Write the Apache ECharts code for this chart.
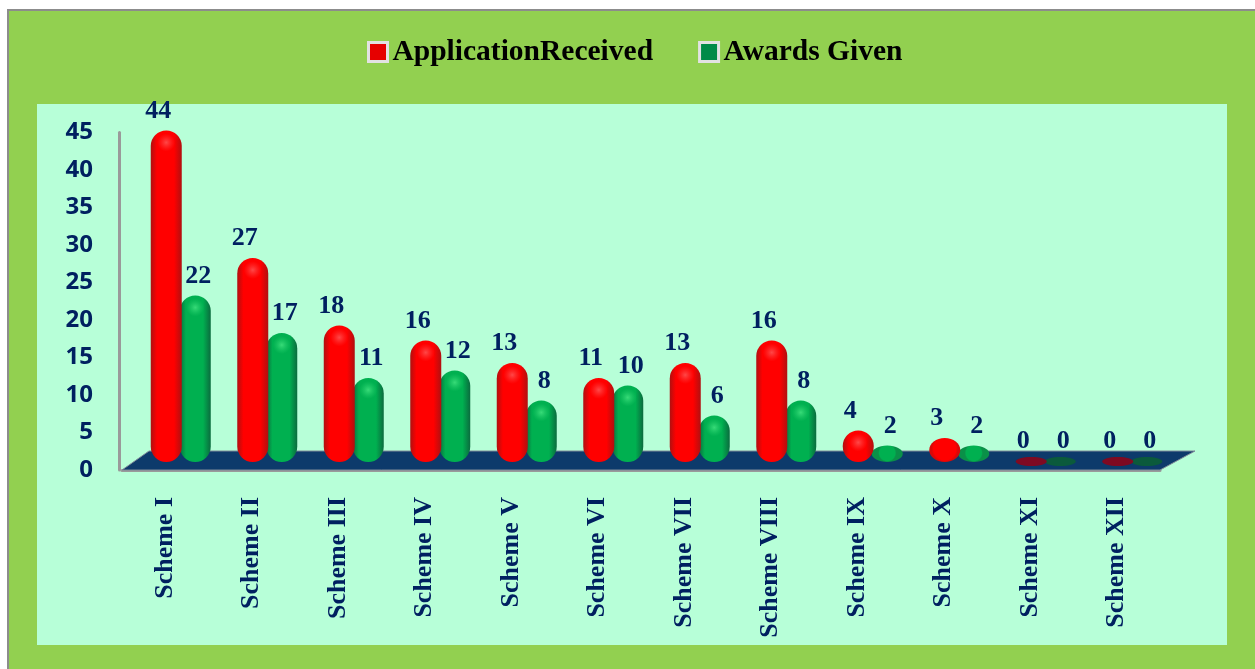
<!DOCTYPE html>
<html>
<head>
<meta charset="utf-8">
<title>Applications and awards by scheme</title>
<script src="https://cdn.jsdelivr.net/npm/echarts@6/dist/echarts.min.js"></script>
<style>
  html, body { margin: 0; padding: 0; background: #fff; }
  #chart { width: 1255px; height: 669px; }
</style>
</head>
<body>
<div id="chart"></div>
<script>
const schemes = ['Scheme I', 'Scheme II', 'Scheme III', 'Scheme IV', 'Scheme V', 'Scheme VI',
  'Scheme VII', 'Scheme VIII', 'Scheme IX', 'Scheme X', 'Scheme XI', 'Scheme XII'];
const applications = [44, 27, 18, 16, 13, 11, 13, 16, 4, 3, 0, 0];
const awards = [22, 17, 11, 12, 8, 10, 6, 8, 2, 2, 0, 0];

const NAVY = '#002060';
const SERIF = '"Liberation Serif", serif';

// fake 3d: everything stands on the floor, so it is pushed back from the axis position
const DEPTH_Y = 9.5;
const BAR_W = 31;

function sideFill(edge, mid) {
  return new echarts.graphic.LinearGradient(0, 0, 1, 0, [
    { offset: 0, color: edge },
    { offset: 0.2, color: mid },
    { offset: 0.75, color: mid },
    { offset: 1, color: edge }
  ]);
}

function pillar(colors, dx, labelDx) {
  return function (params, api) {
    const value = api.value(1);
    const p = api.coord([api.value(0), value]);
    const base = api.coord([api.value(0), 0])[1];
    const cx = p[0] + dx;
    const top = value === 0 ? base - 13 : p[1] - DEPTH_Y;
    const bottom = value === 0 ? base - 4 : base - 8;
    const h = bottom - top;
    const children = [];

    if (value === 0) {
      children.push({
        type: 'ellipse',
        shape: { cx, cy: (top + bottom) / 2, rx: BAR_W / 2, ry: h / 2 },
        style: { fill: colors.flat }
      });
    } else if (h <= BAR_W) {
      children.push({
        type: 'ellipse',
        shape: { cx, cy: (top + bottom) / 2, rx: BAR_W / 2, ry: h / 2 },
        style: {
          fill: new echarts.graphic.RadialGradient(0.5, 0.45, 0.55, [
            { offset: 0, color: colors.mid },
            { offset: 0.85, color: colors.mid },
            { offset: 1, color: colors.soft }
          ])
        }
      });
    } else {
      children.push({
        type: 'rect',
        shape: { x: cx - BAR_W / 2, y: top, width: BAR_W, height: h, r: BAR_W / 2 },
        style: { fill: sideFill(colors.edge, colors.mid) }
      });
      children.push({
        type: 'ellipse',
        shape: { cx, cy: top + 12, rx: 10, ry: 9 },
        style: {
          fill: new echarts.graphic.RadialGradient(0.5, 0.5, 0.5, [
            { offset: 0, color: colors.shine },
            { offset: 1, color: colors.shine0 }
          ])
        }
      });
    }

    children.push({
      type: 'text',
      x: p[0] + labelDx,
      y: p[1] - 29,
      style: {
        text: String(value),
        fill: NAVY,
        font: 'bold 26px ' + SERIF,
        align: 'center',
        verticalAlign: 'middle'
      }
    });
    return { type: 'group', children };
  };
}

function renderFloor(params, api) {
  const c = params.coordSys;
  const y0 = c.y + c.height;
  return {
    type: 'polygon',
    shape: {
      points: [
        [c.x, y0],
        [c.x + c.width, y0],
        [c.x + c.width + 35, y0 - 19],
        [c.x + 27, y0 - 19]
      ]
    },
    style: { fill: '#0d3a6b', stroke: '#7f8a99', lineWidth: 1 }
  };
}

const redBar = { edge: '#b01010', soft: '#d80808', mid: '#ff0000', shine: 'rgba(255,90,90,0.8)', shine0: 'rgba(255,60,60,0)', flat: '#7e0a22' };
const greenBar = { edge: '#0b6b3e', soft: '#0a9048', mid: '#00b050', shine: 'rgba(70,230,130,0.8)', shine0: 'rgba(40,210,110,0)', flat: '#0b5a3c' };

const chart = echarts.init(document.getElementById('chart'));
chart.setOption({
  animation: false,
  backgroundColor: '#ffffff',
  graphic: [
    { type: 'rect', silent: true, z: -20, shape: { x: 8, y: 10, width: 1300, height: 720 },
      style: { fill: '#92d050', stroke: '#8c8c8c', lineWidth: 2 } },
    { type: 'rect', silent: true, z: -19, shape: { x: 37, y: 104, width: 1190, height: 541 },
      style: { fill: '#b7ffd8' } }
  ],
  legend: {
    left: 362,
    top: 32,
    itemWidth: 19,
    itemHeight: 19,
    itemGap: 45,
    icon: 'rect',
    textStyle: { color: '#000', fontFamily: SERIF, fontWeight: 'bold', fontSize: 29.5 },
    data: [
      { name: 'ApplicationReceived', itemStyle: { color: '#e60000', borderColor: '#e2e2e2', borderWidth: 3 } },
      { name: 'Awards Given', itemStyle: { color: '#008a48', borderColor: '#e2e2e2', borderWidth: 3 } }
    ]
  },
  grid: { left: 122, top: 132.5, width: 1038, height: 337.5 },
  xAxis: {
    type: 'category',
    data: schemes,
    offset: 1,
    axisLine: { lineStyle: { color: '#9a9a9a', width: 3 } },
    axisTick: { show: false },
    axisLabel: {
      rotate: 90,
      interval: 0,
      margin: 26,
      color: NAVY,
      fontFamily: SERIF,
      fontWeight: 'bold',
      fontSize: 26
    }
  },
  yAxis: {
    type: 'value',
    min: 0,
    max: 45,
    interval: 5,
    offset: 3,
    splitLine: { show: false },
    axisTick: { show: false },
    axisLine: { show: true, lineStyle: { color: '#9a9a9a', width: 3 } },
    axisLabel: {
      margin: 26,
      color: NAVY,
      fontFamily: '"Open Sans", sans-serif',
      fontWeight: 'bold',
      fontSize: 24
    }
  },
  series: [
    { name: 'floor', type: 'custom', data: [0], renderItem: renderFloor, silent: true, clip: false, z: 1 },
    {
      name: 'Awards Given',
      type: 'custom',
      z: 2,
      clip: false,
      itemStyle: { color: '#00a04a' },
      encode: { x: 0, y: 1 },
      data: awards.map((v, i) => [i, v]),
      renderItem: pillar(greenBar, 30, 33)
    },
    {
      name: 'ApplicationReceived',
      type: 'custom',
      z: 3,
      clip: false,
      itemStyle: { color: '#ff0000' },
      encode: { x: 0, y: 1 },
      data: applications.map((v, i) => [i, v]),
      renderItem: pillar(redBar, 1, -7)
    }
  ]
});
</script>
</body>
</html>
